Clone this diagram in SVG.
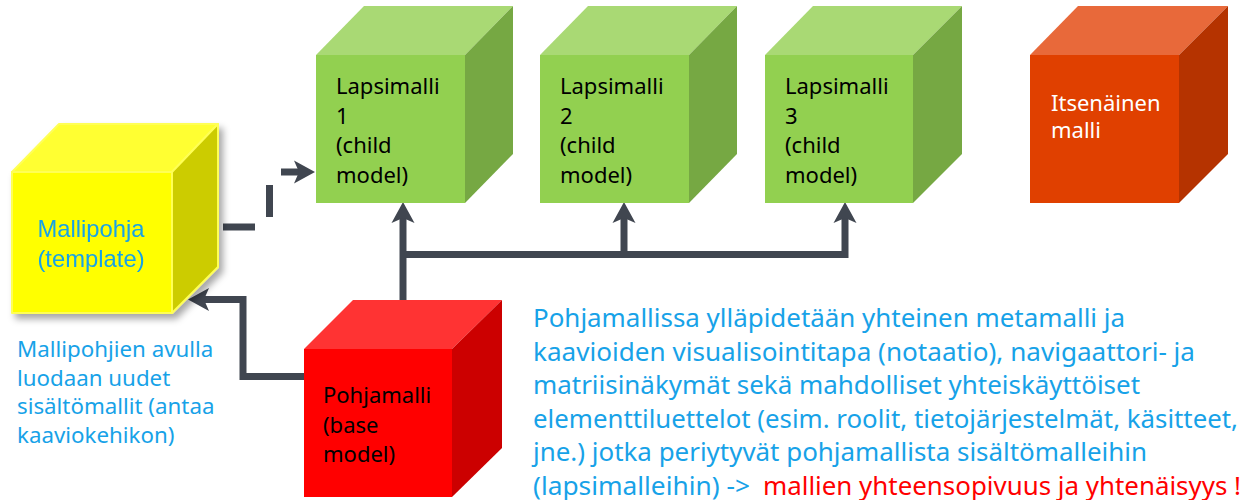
<svg xmlns="http://www.w3.org/2000/svg" width="1248" height="500" viewBox="0 0 1248 500">
<defs>
<style>
.g-front{fill:#92D050}.g-top{fill:#A9D974}.g-right{fill:#76A843}
.o-front{fill:#E04000}.o-top{fill:#E8693A}.o-right{fill:#B53300}
.r-front{fill:#FF0000}.r-top{fill:#FF3333}.r-right{fill:#CC0000}
.y-front{fill:#FFFF00}.y-top{fill:#FFFF33}.y-right{fill:#CCCC00}
.ycube{stroke:#FFFF55;stroke-width:2;stroke-linejoin:round}
.lbl{font-family:"Noto Sans","Open Sans","DejaVu Sans",sans-serif;font-size:22px;fill:#000}
.lblw{font-family:"Noto Sans","Open Sans","DejaVu Sans",sans-serif;font-size:22px;fill:#FFFFFF}
.tpl{font-family:"Liberation Sans",Arial,sans-serif;font-size:23.8px;fill:#17A2E8;text-anchor:middle}
.note{font-family:"Noto Sans","Open Sans","DejaVu Sans",sans-serif;font-size:22.3px;fill:#17A2E8}
.para{font-family:"Noto Sans","Open Sans","DejaVu Sans",sans-serif;font-size:25px;fill:#17A2E8}
.red{fill:#FF0000}
.conn{fill:none;stroke:#404650;stroke-width:7;stroke-linejoin:miter}
.dash{stroke-dasharray:32 24.5}
</style>
<marker id="arr" viewBox="0 -12 22 24" refX="5" refY="0" markerWidth="22" markerHeight="24" markerUnits="userSpaceOnUse" orient="auto">
<path d="M0,-11.5 L21,0 L0,11.5 L5,0 Z" fill="#404650"/>
</marker>
<filter id="shadow" x="-20%" y="-20%" width="150%" height="150%">
<feDropShadow dx="4" dy="5" stdDeviation="3.5" flood-color="#000" flood-opacity="0.35"/>
</filter>
</defs>

<g id="connectors">
<path class="conn dash" d="M223,227 H269.5 V172 H299" marker-end="url(#arr)"/>
<path class="conn" d="M403,301 V218" marker-end="url(#arr)"/>
<path class="conn" d="M403,254.5 H845 V218" marker-end="url(#arr)"/>
<path class="conn" d="M624,254.5 V218" marker-end="url(#arr)"/>
<path class="conn" d="M304,376.5 H243 V299.5 H204" marker-end="url(#arr)"/>
</g>

<g id="template" filter="url(#shadow)">
<polygon class="y-front ycube" points="12,172 172,172 172,313 12,313"/>
<polygon class="y-top ycube" points="12,172 59,124 218,124 172,172"/>
<polygon class="y-right ycube" points="172,172 218,124 218,267 172,313"/>
<text class="tpl" x="91" y="237">Mallipohja</text>
<text class="tpl" x="91" y="267">(template)</text>
</g>

<g id="child1">
<polygon class="g-front" points="316,55 465,55 465,203 316,203"/>
<polygon class="g-top" points="316,55 364,6 513,6 465,55"/>
<polygon class="g-right" points="465,55 513,6 513,154 465,203"/>
<text class="lbl" x="336" y="94">Lapsimalli</text>
<text class="lbl" x="336" y="124">1</text>
<text class="lbl" x="336" y="153">(child</text>
<text class="lbl" x="336" y="183">model)</text>
</g>

<g id="child2">
<polygon class="g-front" points="540,55 689,55 689,203 540,203"/>
<polygon class="g-top" points="540,55 588,6 737,6 689,55"/>
<polygon class="g-right" points="689,55 737,6 737,154 689,203"/>
<text class="lbl" x="560" y="94">Lapsimalli</text>
<text class="lbl" x="560" y="124">2</text>
<text class="lbl" x="560" y="153">(child</text>
<text class="lbl" x="560" y="183">model)</text>
</g>

<g id="child3">
<polygon class="g-front" points="765,55 913,55 913,203 765,203"/>
<polygon class="g-top" points="765,55 813,6 962,6 913,55"/>
<polygon class="g-right" points="913,55 962,6 962,154 913,203"/>
<text class="lbl" x="785" y="94">Lapsimalli</text>
<text class="lbl" x="785" y="124">3</text>
<text class="lbl" x="785" y="153">(child</text>
<text class="lbl" x="785" y="183">model)</text>
</g>

<g id="independent">
<polygon class="o-front" points="1030,55 1179,55 1179,203 1030,203"/>
<polygon class="o-top" points="1030,55 1078,6 1228,6 1179,55"/>
<polygon class="o-right" points="1179,55 1228,6 1228,154 1179,203"/>
<text class="lblw" x="1051" y="110.5">Itsenäinen</text>
<text class="lblw" x="1051" y="138">malli</text>
</g>

<g id="base">
<polygon class="r-front" points="304,349 452,349 452,497 304,497"/>
<polygon class="r-top" points="304,349 353,300 502,300 452,349"/>
<polygon class="r-right" points="452,349 502,300 502,448 452,497"/>
<text class="lbl" x="323" y="403">Pohjamalli</text>
<text class="lbl" x="323" y="433">(base</text>
<text class="lbl" x="323" y="462">model)</text>
</g>

<g id="note">
<text class="note" x="17" y="357">Mallipohjien avulla</text>
<text class="note" x="17" y="385.5">luodaan uudet</text>
<text class="note" x="17" y="414">sisältömallit (antaa</text>
<text class="note" x="17" y="442.5">kaaviokehikon)</text>
</g>

<g id="description">
<text class="para" x="533" y="327" textLength="592" lengthAdjust="spacingAndGlyphs">Pohjamallissa ylläpidetään yhteinen metamalli ja</text>
<text class="para" x="533" y="360.5" textLength="662" lengthAdjust="spacingAndGlyphs">kaavioiden visualisointitapa (notaatio), navigaattori- ja</text>
<text class="para" x="533" y="394" textLength="607" lengthAdjust="spacingAndGlyphs">matriisinäkymät sekä mahdolliset yhteiskäyttöiset</text>
<text class="para" x="533" y="427.5" textLength="705" lengthAdjust="spacingAndGlyphs">elementtiluettelot (esim. roolit, tietojärjestelmät, käsitteet,</text>
<text class="para" x="533" y="461" textLength="614" lengthAdjust="spacingAndGlyphs">jne.) jotka periytyvät pohjamallista sisältömalleihin</text>
<text class="para" x="533" y="494.5" textLength="217" lengthAdjust="spacingAndGlyphs">(lapsimalleihin) -&gt;</text>
<text class="para red" x="763" y="494.5" textLength="478" lengthAdjust="spacingAndGlyphs">mallien yhteensopivuus ja yhtenäisyys !</text>
</g>
</svg>
